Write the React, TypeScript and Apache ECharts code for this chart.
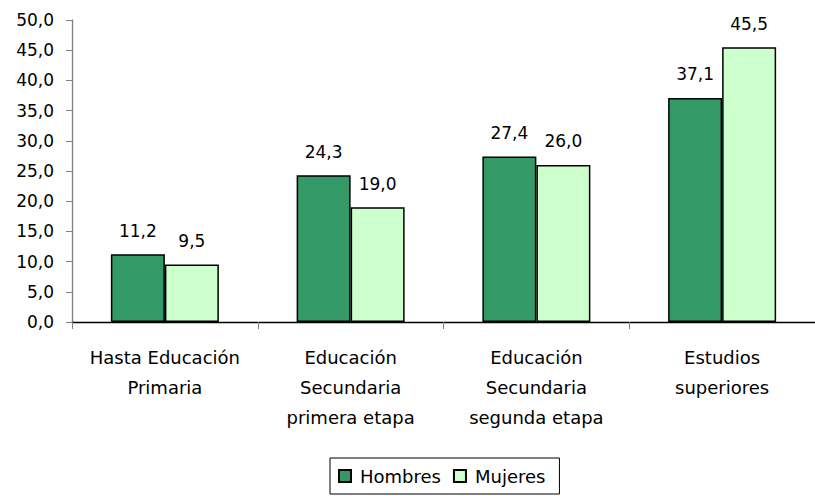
import React, { useEffect, useRef } from "react";
import * as echarts from "echarts";

const categories = [
  "Hasta Educación\nPrimaria",
  "Educación\nSecundaria\nprimera etapa",
  "Educación\nSecundaria\nsegunda etapa",
  "Estudios\nsuperiores",
];
const hombres = [11.2, 24.3, 27.4, 37.1];
const mujeres = [9.5, 19.0, 26.0, 45.5];
const seriesNames = ["Hombres", "Mujeres"];

const FONT = "DejaVu Sans";
const fmt = (v: number) => v.toFixed(1).replace(".", ",");

export default function App() {
  const ref = useRef<HTMLDivElement>(null);
  useEffect(() => {
    document.body.style.margin = "0";
    const chart = echarts.init(ref.current!, null, { renderer: "svg" });
    const labelCfg = {
      show: true,
      position: "top" as const,
      distance: 15,
      color: "#000",
      fontFamily: FONT,
      fontSize: 17,
      formatter: (p: any) => fmt(p.value),
    };
    chart.setOption({
      animation: false,
      backgroundColor: "#fff",
      grid: { left: 72, top: 20, width: 753, height: 302 },
      legend: {
        data: seriesNames,
        left: 330,
        top: 458,
        orient: "horizontal",
        borderColor: "#000",
        borderWidth: 1,
        padding: [9, 14, 9, 8],
        itemWidth: 12,
        itemHeight: 12,
        itemGap: 12,
        icon: "rect",
        textStyle: { fontFamily: FONT, fontSize: 18, color: "#000", padding: [0, 0, 0, 4] },
      },
      xAxis: {
        type: "category",
        data: categories,
        axisLine: { lineStyle: { color: "#000", width: 1.3 } },
        axisTick: { show: true, length: 7, lineStyle: { color: "#808080" } },
        axisLabel: {
          fontFamily: FONT,
          fontSize: 18,
          color: "#000",
          lineHeight: 30,
          margin: 20,
          interval: 0,
        },
      },
      yAxis: {
        type: "value",
        min: 0,
        max: 50,
        interval: 5,
        axisLine: { show: true, lineStyle: { color: "#808080", width: 1.3 } },
        axisTick: { show: true, length: 6, lineStyle: { color: "#808080" } },
        splitLine: { show: false },
        axisLabel: {
          fontFamily: FONT,
          fontSize: 17,
          color: "#000",
          margin: 18,
          formatter: (v: number) => fmt(v),
        },
      },
      series: [
        {
          name: seriesNames[0],
          type: "bar",
          data: hombres,
          barWidth: 54,
          barGap: "0%",
          itemStyle: { color: "#339966", borderColor: "#000", borderWidth: 1.5 },
          label: labelCfg,
        },
        {
          name: seriesNames[1],
          type: "bar",
          data: mujeres,
          barWidth: 54,
          barGap: "0%",
          itemStyle: { color: "#CCFFCC", borderColor: "#000", borderWidth: 1.5 },
          label: labelCfg,
        },
      ],
    });
    return () => chart.dispose();
  }, []);
  return <div ref={ref} style={{ width: 815, height: 496 }} />;
}
